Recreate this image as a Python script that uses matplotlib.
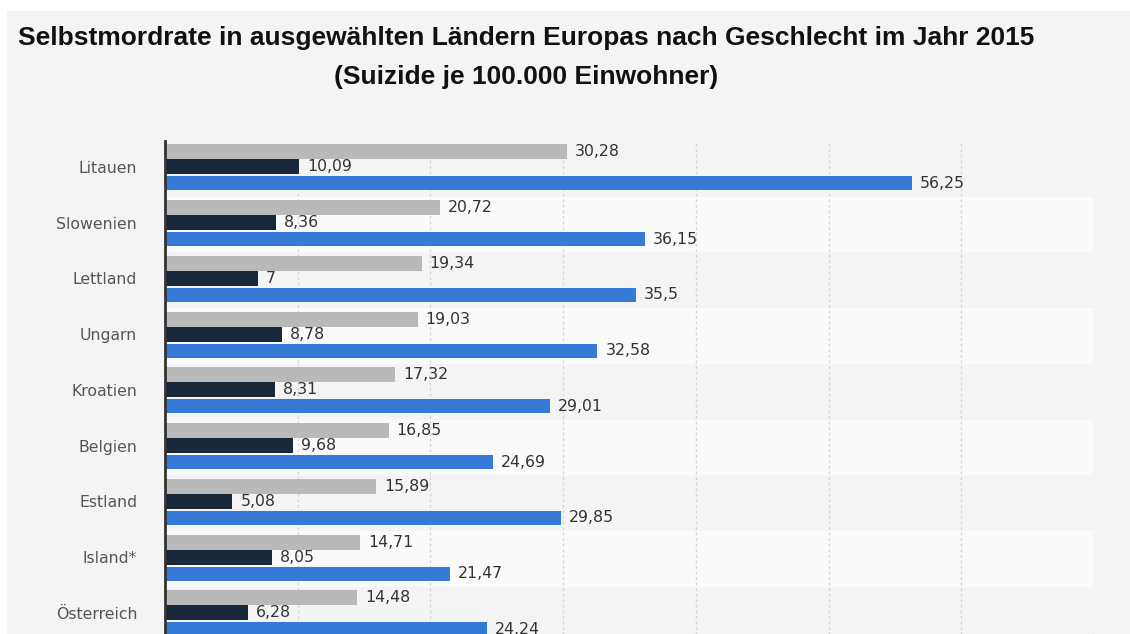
import matplotlib
matplotlib.use("Agg")
import matplotlib.pyplot as plt
from matplotlib.patches import Rectangle

countries = ["Litauen", "Slowenien", "Lettland", "Ungarn", "Kroatien",
             "Belgien", "Estland", "Island*", "Österreich"]
gesamt = [30.28, 20.72, 19.34, 19.03, 17.32, 16.85, 15.89, 14.71, 14.48]
frauen = [10.09, 8.36, 7, 8.78, 8.31, 9.68, 5.08, 8.05, 6.28]
maenner = [56.25, 36.15, 35.5, 32.58, 29.01, 24.69, 29.85, 21.47, 24.24]
x_ticks = [0, 10, 20, 30, 40, 50, 60, 70]

title1 = "Selbstmordrate in ausgewählten Ländern Europas nach Geschlecht im Jahr 2015"
title2 = "(Suizide je 100.000 Einwohner)"

W, H = 1130, 634
fig = plt.figure(figsize=(W / 100, H / 100), dpi=100)
fig.patch.set_facecolor("white")
fig.patches.append(Rectangle((7 / W, 0), 1 - 7 / W, 1 - 11 / H,
                             transform=fig.transFigure, facecolor="#f4f4f4",
                             edgecolor="none", zorder=-10))

fig.text(526 / W, 1 - 38 / H, title1, ha="center", va="center",
         fontsize=19, fontweight="bold", family="Liberation Sans", color="#111111")
fig.text(526 / W, 1 - 77 / H, title2, ha="center", va="center",
         fontsize=19, fontweight="bold", family="Liberation Sans", color="#111111")

left, right = 165 / W, 1094 / W
top_px = 140.75
slot = 55.75
n = len(countries)
height_px = n * slot
ax = fig.add_axes([left, 1 - (top_px + height_px) / H, right - left, height_px / H])
ax.set_facecolor("none")
ax.set_zorder(1)

y = list(range(n))
for i in y:
    col = "#f4f4f4" if i % 2 == 0 else "#fafafa"
    ax.axhspan(i - 0.47, i + 0.53, color=col, zorder=0, lw=0)

ax.barh([v - 0.27 for v in y], gesamt, height=0.27, color="#b9b9b9", zorder=3)
ax.barh(y, frauen, height=0.27, color="#16283a", zorder=3)
ax.barh([v + 0.295 for v in y], maenner, height=0.25, color="#347ad6", zorder=3)

def fmt(v):
    return f"{v:g}".replace(".", ",")

for i in y:
    for val, off in ((gesamt[i], -0.27), (frauen[i], 0.0), (maenner[i], 0.295)):
        ax.annotate(fmt(val), (val, i + off), xytext=(8, 0), textcoords="offset pixels",
                    ha="left", va="center", fontsize=11.3, color="#333333",
                    family="DejaVu Sans", zorder=4)

ax.set_xlim(0, 70)
ax.set_ylim(n - 0.47, -0.47)
ax.set_xticks(x_ticks)
ax.set_xticklabels([])
ax.tick_params(axis="x", length=0)
ax.set_yticks(y)
ax.set_yticklabels(countries, fontsize=11.3, color="#555555", family="DejaVu Sans")
ax.tick_params(axis="y", length=0, pad=20)
ax.grid(axis="x", color="#d6d6d6", linestyle=(0, (2, 2)), linewidth=1, zorder=1)
ax.set_axisbelow(True)
for s in ("top", "right", "bottom"):
    ax.spines[s].set_visible(False)
ax.spines["left"].set_color("#333333")
ax.spines["left"].set_linewidth(2)
ax.spines["left"].set_zorder(5)

fig.savefig("out.png", dpi=100)
